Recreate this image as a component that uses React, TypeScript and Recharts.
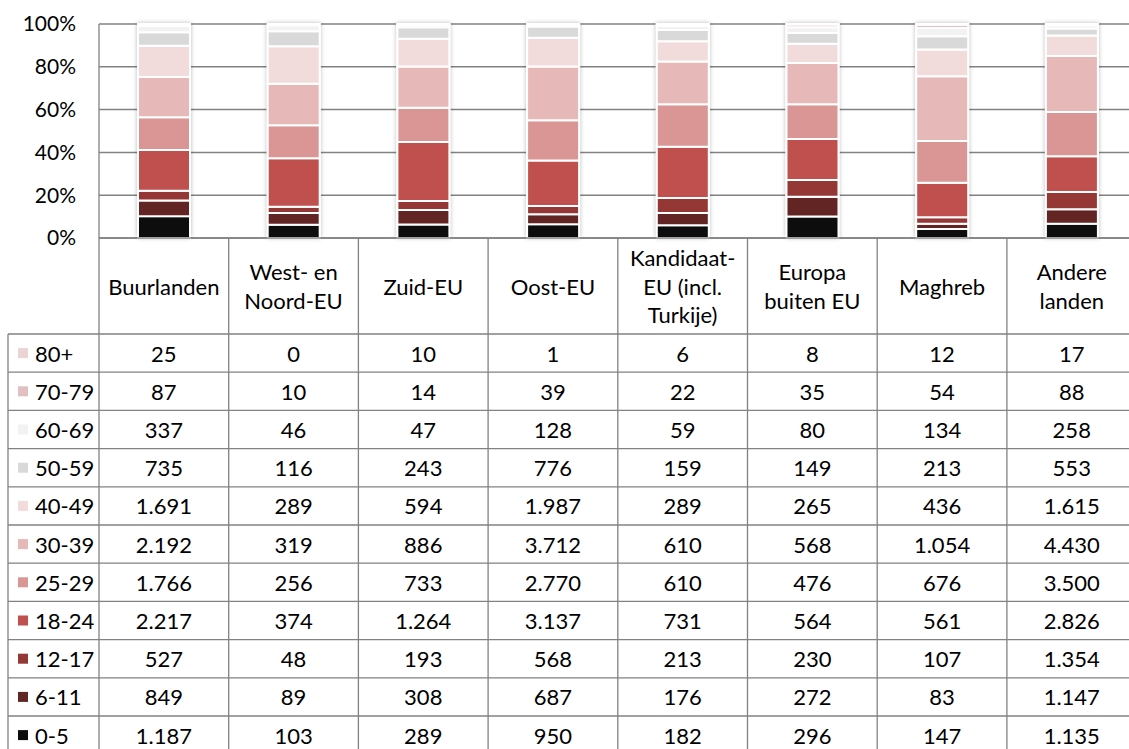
import React from "react";
import { BarChart, Bar, XAxis, YAxis, CartesianGrid } from "recharts";

// regions (x categories) and how their names break in the table header
const regions = [
  "Buurlanden",
  "West- en Noord-EU",
  "Zuid-EU",
  "Oost-EU",
  "Kandidaat-EU (incl. Turkije)",
  "Europa buiten EU",
  "Maghreb",
  "Andere landen",
];
const headerLines = [
  ["Buurlanden"],
  ["West- en", "Noord-EU"],
  ["Zuid-EU"],
  ["Oost-EU"],
  ["Kandidaat-", "EU (incl.", "Turkije)"],
  ["Europa", "buiten EU"],
  ["Maghreb"],
  ["Andere", "landen"],
];

// values per age group, one entry per region
const age0_5 = [1187, 103, 289, 950, 182, 296, 147, 1135];
const age6_11 = [849, 89, 308, 687, 176, 272, 83, 1147];
const age12_17 = [527, 48, 193, 568, 213, 230, 107, 1354];
const age18_24 = [2217, 374, 1264, 3137, 731, 564, 561, 2826];
const age25_29 = [1766, 256, 733, 2770, 610, 476, 676, 3500];
const age30_39 = [2192, 319, 886, 3712, 610, 568, 1054, 4430];
const age40_49 = [1691, 289, 594, 1987, 289, 265, 436, 1615];
const age50_59 = [735, 116, 243, 776, 159, 149, 213, 553];
const age60_69 = [337, 46, 47, 128, 59, 80, 134, 258];
const age70_79 = [87, 10, 14, 39, 22, 35, 54, 88];
const age80 = [25, 0, 10, 1, 6, 8, 12, 17];

const yTicks = [0, 0.2, 0.4, 0.6, 0.8, 1];

// bottom of the stack first
const series = [
  { key: "0-5", values: age0_5, color: "#0d0d0d" },
  { key: "6-11", values: age6_11, color: "#632523" },
  { key: "12-17", values: age12_17, color: "#953735" },
  { key: "18-24", values: age18_24, color: "#c0504d" },
  { key: "25-29", values: age25_29, color: "#d99694" },
  { key: "30-39", values: age30_39, color: "#e6b9b8" },
  { key: "40-49", values: age40_49, color: "#f2dcdb" },
  { key: "50-59", values: age50_59, color: "#d9d9d9" },
  { key: "60-69", values: age60_69, color: "#f2f2f2" },
  { key: "70-79", values: age70_79, color: "#e2c0c1" },
  { key: "80+", values: age80, color: "#ecd3d4" },
];

const data = regions.map((region, i) => {
  const row: Record<string, any> = { region };
  series.forEach((s) => (row[s.key] = s.values[i]));
  return row;
});

const fmt = (n: number) => String(n).replace(/\B(?=(\d{3})+(?!\d))/g, ".");

const FONT = "Lato";
const GRID = "#828282";
const plotLeft = 99;
const plotTop = 24;
const plotBottom = 238;
const colW = 129.7;
const barW = 52;
const headerBottom = 334;
const rowH = 38.2;
const TABLE_FS = 22;
const chartW = plotLeft + colW * regions.length;

// bottom segment also paints the soft halo behind the whole (100%) column
const HaloShape = (props: any) => {
  const { x, y, width, height, fill, background } = props;
  const by = background ? background.y : plotTop;
  const bh = background ? background.height : plotBottom - plotTop;
  return (
    <g>
      <rect
        x={x - 1}
        y={by - 1}
        width={width + 2}
        height={bh + 1}
        fill="#fff"
        style={{ filter: "drop-shadow(0px 0px 2px rgba(0,0,0,0.28))" }}
      />
      {height > 0 && (
        <rect x={x} y={y} width={width} height={height} fill={fill} stroke="#fff" strokeWidth={2} />
      )}
    </g>
  );
};

const Table = () => {
  const rows = [...series].reverse();
  const right = chartW;
  const bottom = headerBottom + rowH * rows.length;
  return (
    <svg
      width={1129}
      height={800}
      style={{ position: "absolute", left: 0, top: 0 }}
      fontFamily={FONT}
    >
      <line x1={plotLeft} x2={right} y1={plotBottom} y2={plotBottom} stroke={GRID} strokeWidth={1.3} />
      {rows.map((_, i) => (
        <line
          key={"h" + i}
          x1={8}
          x2={right}
          y1={headerBottom + i * rowH}
          y2={headerBottom + i * rowH}
          stroke={GRID}
          strokeWidth={1.3}
        />
      ))}
      <line x1={8} x2={8} y1={headerBottom} y2={bottom} stroke={GRID} strokeWidth={1.3} />
      {regions.map((_, i) => (
        <line
          key={"v" + i}
          x1={plotLeft + i * colW}
          x2={plotLeft + i * colW}
          y1={plotBottom}
          y2={bottom}
          stroke={GRID}
          strokeWidth={1.3}
        />
      ))}
      {headerLines.map((lines, i) => {
        const cx = plotLeft + (i + 0.5) * colW;
        const mid = (plotBottom + headerBottom) / 2;
        const start = mid - ((lines.length - 1) * 28.5) / 2;
        return lines.map((t, j) => (
          <text
            key={"hd" + i + j}
            x={cx}
            y={start + j * 28.5}
            textAnchor="middle"
            dominantBaseline="central"
            fontSize={TABLE_FS}
            fill="#000"
          >
            {t}
          </text>
        ));
      })}
      {rows.map((s, r) => {
        const cy = headerBottom + (r + 0.5) * rowH;
        return (
          <g key={"r" + s.key}>
            <rect x={18} y={cy - 5} width={10} height={10} fill={s.color} />
            <text x={35} y={cy} dominantBaseline="central" fontSize={TABLE_FS} fill="#000">
              {s.key}
            </text>
            {s.values.map((v, i) => (
              <text
                key={i}
                x={plotLeft + (i + 0.5) * colW}
                y={cy}
                textAnchor="middle"
                dominantBaseline="central"
                fontSize={TABLE_FS}
                fill="#000"
              >
                {fmt(v)}
              </text>
            ))}
          </g>
        );
      })}
    </svg>
  );
};

const App = () => {
  return (
    <div
      style={{
        position: "absolute",
        left: 0,
        top: 0,
        width: 1129,
        height: 749,
        overflow: "hidden",
        background: "#fff",
      }}
    >
      <div style={{ position: "absolute", left: 0, top: 0 }}>
        <BarChart
          width={chartW}
          height={262}
          data={data}
          stackOffset="expand"
          margin={{ top: plotTop, right: 0, left: 0, bottom: 262 - plotBottom }}
          barSize={barW}
        >
          <CartesianGrid vertical={false} stroke={GRID} strokeWidth={1.5} />
          <XAxis dataKey="region" hide />
          <YAxis
            width={plotLeft}
            domain={[0, 1]}
            ticks={yTicks}
            interval={0}
            tickFormatter={(v: number) => Math.round(v * 100) + "%"}
            axisLine={{ stroke: GRID, strokeWidth: 1.3 }}
            tickLine={false}
            tickSize={0}
            tickMargin={23}
            tick={{ fill: "#000", fontSize: 21, fontFamily: FONT }}
          />
          {series.map((s, idx) => (
            <Bar
              key={s.key}
              dataKey={s.key}
              stackId="a"
              fill={s.color}
              stroke="#fff"
              strokeWidth={2}
              shape={idx === 0 ? HaloShape : undefined}
              isAnimationActive={false}
            />
          ))}
        </BarChart>
      </div>
      <Table />
    </div>
  );
};

export default App;
